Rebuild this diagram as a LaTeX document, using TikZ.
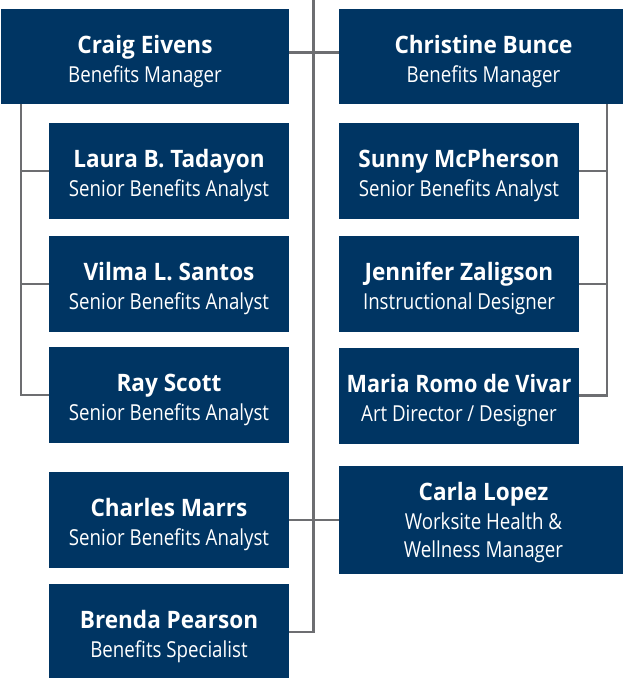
\documentclass[tikz,border=0pt]{standalone}
\usepackage{graphicx}
\usepackage{fontspec}
\setmainfont{Open Sans}[FakeStretch=0.85, BoldFeatures={FakeStretch=0.94}]
\definecolor{navy}{RGB}{0,53,99}
\definecolor{linegray}{RGB}{109,110,113}
\newcommand{\pname}[2][28pt]{{\fontsize{24}{29}\selectfont\bfseries\rule{0pt}{#1}#2}}
\tikzset{
  person/.style={fill=navy, text=white, inner sep=0pt, align=center,
    font=\fontsize{22}{29}\selectfont, minimum height=96pt,
    execute at end node={\rule[-6pt]{0pt}{6pt}}},
  wide/.style={person, minimum width=289pt},
  narrow/.style={person, minimum width=240pt},
  conn/.style={draw=linegray, line width=2.2pt, line join=miter},
}
\begin{document}
\begin{tikzpicture}[x=1pt,y=-1pt]
\useasboundingbox (0,0) rectangle (623,678);
% boxes
\node[wide, minimum width=288pt, minimum height=95pt] (craig) at (145,56.5) {\pname{Craig Eivens}\\Benefits Manager};
\node[wide, minimum height=95pt] (christine) at (483.5,56.5) {\pname{Christine Bunce}\\Benefits Manager};
\node[narrow] (laura) at (169,171) {\pname{Laura B. Tadayon}\\Senior Benefits Analyst};
\node[narrow] (vilma) at (169,284) {\pname{Vilma L. Santos}\\Senior Benefits Analyst};
\node[narrow] (ray) at (169,395) {\pname{Ray Scott}\\Senior Benefits Analyst};
\node[narrow] (charles) at (169,520) {\pname{Charles Marrs}\\Senior Benefits Analyst};
\node[narrow] (brenda) at (169,632) {\pname{Brenda Pearson}\\Benefits Specialist};
\node[narrow] (sunny) at (459,171) {\pname{Sunny McPherson}\\Senior Benefits Analyst};
\node[narrow] (jennifer) at (459,284) {\pname{Jennifer Zaligson}\\Instructional Designer};
\node[narrow] (maria) at (459,395.5) {\pname{\scalebox{0.96}[1]{Maria Romo de Vivar}}\\Art Director / Designer};
\node[wide, minimum height=108pt, font=\fontsize{22}{28.5}\selectfont] (carla) at (483.5,520) {\pname[24.5pt]{Carla Lopez}\\Worksite Health \&\\Wellness Manager};
% connectors
\coordinate (top) at (313.5,0);
\coordinate (lx) at (21,0);
\coordinate (rx) at (607,0);
\draw[conn] (top) |- (brenda.east);
\draw[conn] ([yshift=4pt]craig.east) -- ([yshift=4pt]christine.west);
\draw[conn] (charles.east) -- (carla.west);
\draw[conn] (lx |- craig.south) |- (ray.west);
\draw[conn] (lx |- laura.west) -- (laura.west);
\draw[conn] (lx |- vilma.west) -- (vilma.west);
\draw[conn] (rx |- christine.south) |- (maria.east);
\draw[conn] (rx |- sunny.east) -- (sunny.east);
\draw[conn] (rx |- jennifer.east) -- (jennifer.east);
\end{tikzpicture}
\end{document}
